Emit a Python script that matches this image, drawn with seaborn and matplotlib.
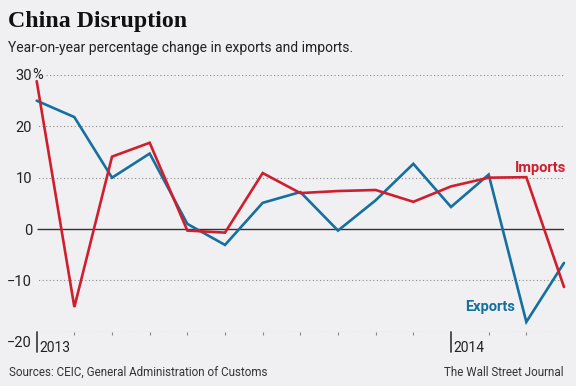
import numpy as np
import pandas as pd
import matplotlib
matplotlib.use('Agg')
import matplotlib.pyplot as plt
import seaborn as sns

# Valeurs (variation annuelle en %)
mois = list(range(15))
exports = [25.0, 21.8, 10.0, 14.7, 1.0, -3.1, 5.1, 7.2, -0.3, 5.6, 12.7, 4.3, 10.6, -18.1, -6.6]
imports = [28.8, -15.2, 14.1, 16.8, -0.3, -0.7, 10.9, 7.0, 7.4, 7.6, 5.3, 8.3, 10.0, 10.1, -11.3]
y_ticks = [30, 20, 10, 0, -10]
y_labels = ['30', '20', '10', '0', '\u221210']
annees = ['2013', '2014']
pos_annees = [0, 11]

BG = '#f0f0f2'
BLEU = '#1570a0'
ROUGE = '#cf1f2e'
NARROW = ['DejaVu Sans Condensed', 'Roboto', 'DejaVu Sans']
SERIF = ['DejaVu Serif Condensed', 'Liberation Serif', 'DejaVu Serif']

sns.set_style('white')
plt.rcParams['font.family'] = NARROW

df = pd.DataFrame({'mois': mois + mois,
                   'valeur': exports + imports,
                   'serie': ['Exports'] * 15 + ['Imports'] * 15})

W, H = 576, 386
fig = plt.figure(figsize=(W / 100, H / 100), dpi=100, facecolor=BG)
x0, x1 = 36.7, 564.0
y30, ym20 = 75.0, 331.7
ax = fig.add_axes([x0 / W, (H - ym20) / H, (x1 - x0) / W, (ym20 - y30) / H])
ax.set_facecolor(BG)

# grille pointillée
for v in [30, 20, 10, -10, -20]:
    start = 0.25 if v == 30 else -0.05
    ax.hlines(v, start, 14.05, colors='#8a8a8a', linestyles=(0, (1, 2.2)), linewidth=0.8, zorder=1)
ax.hlines(0, 0, 14, colors='#333333', linewidth=1.0, zorder=2)

sns.lineplot(data=df, x='mois', y='valeur', hue='serie',
             palette={'Exports': BLEU, 'Imports': ROUGE},
             hue_order=['Exports', 'Imports'],
             linewidth=1.9, legend=False, ax=ax, zorder=3)
for l in ax.lines:
    l.set_clip_on(False)
    l.set_solid_joinstyle('miter')

ax.set_xlim(0, 14)
ax.set_ylim(-20, 30)
sns.despine(ax=ax, left=True, bottom=True, right=True, top=True)
ax.set_xlabel('')
ax.set_ylabel('')

ax.set_yticks(y_ticks)
ax.set_yticklabels(y_labels)
ax.tick_params(axis='y', length=0, pad=3.4, labelsize=10.5, labelcolor='#222222')

# graduations mensuelles
ax.set_xticks([i for i in range(1, 14) if i not in pos_annees])
ax.set_xticklabels([])
ax.tick_params(axis='x', bottom=True, length=2.5, width=0.8, color='#888888', direction='out', pad=0)
# repères d'années
for p, a in zip(pos_annees, annees):
    ax.plot([p, p], [0, -0.08], transform=ax.get_xaxis_transform(), color='#444444',
            linewidth=1.3, clip_on=False)
    ax.annotate(a, xy=(p, 0), xycoords=ax.get_xaxis_transform(), xytext=(1.8, -14.5),
                textcoords='offset points', ha='left', va='baseline', fontsize=10, color='#222222')

ax.annotate('%', xy=(0, 30), xycoords=ax.get_yaxis_transform(), xytext=(-3.4, 0),
            textcoords='offset points', ha='left', va='center', fontsize=10.5, color='#222222')
ax.annotate('\u221220', xy=(0, -20), xycoords=ax.get_yaxis_transform(), xytext=(-3.4, -8),
            textcoords='offset points', ha='right', va='center', fontsize=10.5, color='#222222')

ax.text(14.05, 11.2, 'Imports', color=ROUGE, fontsize=10.5, fontweight='bold', ha='right', va='baseline')
ax.text(12.7, -16.0, 'Exports', color=BLEU, fontsize=10.5, fontweight='bold', ha='right', va='baseline')

fig.text(8 / W, 1 - 27 / H, 'China Disruption', fontsize=17.2, fontweight='bold',
         family=SERIF, color='#111111', va='baseline')
fig.text(8 / W, 1 - 52 / H, 'Year-on-year percentage change in exports and imports.',
         fontsize=10, color='#222222', va='baseline')
fig.text(9 / W, 1 - 376 / H, 'Sources: CEIC, General Administration of Customs',
         fontsize=8.4, color='#333333', va='baseline')
fig.text(564 / W, 1 - 376 / H, 'The Wall Street Journal', fontsize=8.4, color='#333333',
         va='baseline', ha='right')

fig.savefig('out.png', dpi=100, facecolor=BG)
